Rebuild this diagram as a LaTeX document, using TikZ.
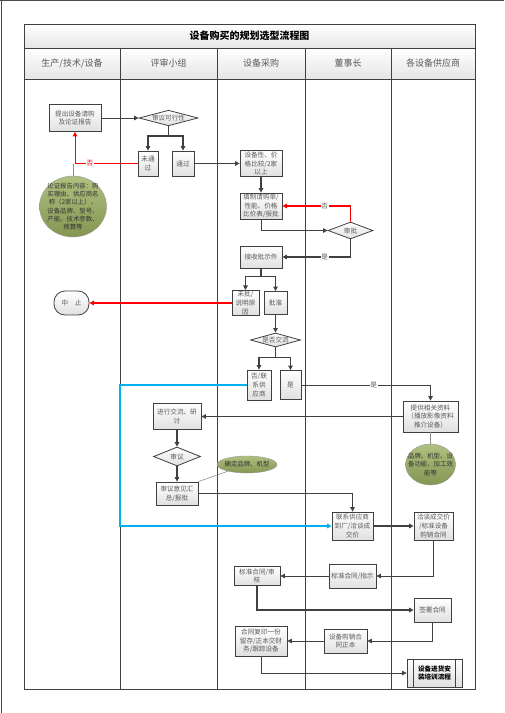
\documentclass[tikz,border=0pt]{standalone}
\usepackage{fontspec}
\setmainfont{Noto Sans CJK SC}
\usetikzlibrary{arrows.meta,shapes.geometric}
\definecolor{linegray}{RGB}{64,64,64}
\definecolor{txtgray}{RGB}{89,89,89}
\definecolor{notegreen}{RGB}{155,176,96}
\definecolor{flowred}{RGB}{255,0,0}
\definecolor{flowblue}{RGB}{0,176,240}

\begin{document}
\begin{tikzpicture}[x=1pt, y=-1pt, >={Triangle[length=4.5pt,width=4.5pt]},
  sz/.style 2 args = {minimum width=#1pt, minimum height=#2pt},
  proc/.style = {draw=linegray, line width=0.8pt, top color=white, bottom color=black!12, text=txtgray, font=\fontsize{6.6}{8.6}\selectfont, align=center, inner sep=1pt},
  dec/.style = {proc, diamond, aspect=3.5, inner sep=0pt},
  term/.style = {proc, rounded corners=11pt},
  note/.style = {draw=black!40, ellipse, top color=notegreen!80!white, bottom color=notegreen!85!black, text=black!80, font=\fontsize{6.4}{8.3}\selectfont, align=center},
  lane/.style = {text=txtgray, font=\fontsize{9}{10}\selectfont},
  lab/.style = {fill=white, inner sep=0.8pt, text=txtgray, font=\fontsize{6.6}{8}\selectfont},
  flow/.style = {draw=linegray, line width=1pt, ->},
  thin/.style = {draw=linegray, line width=0.7pt, ->},
  bold/.style = {draw=linegray, line width=1.6pt, ->}]
  \useasboundingbox (0,0) rectangle (504,713);
  % page edge
  \draw[black!70, line width=1pt] (0,0.5) -- (504,0.5);
  \draw[black!70, line width=1pt] (1.5,0) -- (1.5,713);
  % table
  \shade[top color=white, bottom color=black!10] (24,24) rectangle (475,48);
  \shade[top color=white, bottom color=black!10] (24,48) rectangle (475,79);
  \draw[linegray, line width=0.9pt] (24,24) rectangle (475,689);
  \draw[linegray, line width=0.9pt] (24,48) -- (475,48);
  \draw[linegray, line width=0.9pt] (24,79) -- (475,79);
  \draw[linegray, line width=0.9pt] (120,48) -- (120,689);
  \draw[linegray, line width=0.9pt] (217,48) -- (217,689);
  \draw[linegray, line width=0.9pt] (305,48) -- (305,689);
  \draw[linegray, line width=0.9pt] (391,48) -- (391,689);
  \node[font=\fontsize{10}{12}\selectfont\bfseries] (title) at (249.5,36) {设备购买的规划选型流程图};
  \node[lane] (prod) at (72,63.5) {生产/技术/设备};
  \node[lane] (panel) at (168.5,63.5) {评审小组};
  \node[lane] (buy) at (261,63.5) {设备采购};
  \node[lane] (board) at (348,63.5) {董事长};
  \node[lane] (supp) at (433,63.5) {各设备供应商};

  % nodes
  \node[proc, sz={52}{27}] (req) at (75,118) {提出设备请购\\及论证报告};
  \node[note, sz={67}{61}, inner sep=-3pt] (reason) at (73,206.5) {论证报告内容：购\\买理由、供应商名\\称（2家以上）、\\设备品牌、型号、\\产能、技术参数、\\预算等};
  \node[dec, sz={59}{15}] (feas) at (168.5,118) {审议可行性};
  \node[proc, sz={20}{25}] (nopass) at (148,163.5) {未通\\过};
  \node[proc, sz={22}{25}] (pass) at (183,163.5) {通过};
  \node[proc, sz={42}{26}] (cmp) at (261,163.5) {设备性、价\\格比较/2家\\以上};
  \node[proc, sz={42}{26}] (fill) at (261,206) {填制请购单/\\性能、价格\\比价表/报批};
  \node[dec, sz={45}{17}] (appr) at (350.5,230.5) {审批};
  \node[proc, sz={42}{22}] (recv) at (261,257) {接收批示件};
  \node[proc, sz={27}{25}] (rej) at (245.5,303) {未批/\\说明原\\因};
  \node[proc, sz={23}{23}] (ok) at (275.5,303) {批准};
  \node[term, sz={35}{24}] (stop) at (71.5,303) {中\quad 止};
  \node[dec, sz={50}{14}] (xchg) at (275.5,340) {是否交流};
  \node[proc, sz={24}{30}] (noc) at (259,385) {否/联\\系供\\应商};
  \node[proc, sz={21}{29}] (yesc) at (290.5,385) {是};
  \node[proc, sz={55}{31}] (info) at (430.5,416.5) {提供相关资料\\（播放影像资料\\推介设备）};
  \node[note, sz={50}{41}, inner sep=-5pt] (spec) at (430.5,464.5) {品牌、机型、设\\备功能、加工效\\能等};
  \node[proc, sz={48}{26}] (disc) at (177,416.5) {进行交流、研\\讨};
  \node[dec, sz={47}{19}] (rev) at (177,456.5) {审议};
  \node[proc, sz={42}{23}] (sum) at (177,493.5) {审议意见汇\\总/报批};
  \node[note, sz={60}{17}, inner sep=-1.5pt] (brand) at (247,464.5) {确定品牌、机型};
  \node[proc, sz={41}{28}] (cont) at (352.5,526) {联系供应商\\到厂/洽谈成\\交价};
  \node[proc, sz={39}{28}] (nego) at (433.5,526) {洽谈成交价\\/标准设备\\购销合同};
  \node[proc, sz={47}{24}] (stdi) at (352.5,576) {标准合同/指示};
  \node[proc, sz={46}{19}] (stda) at (257,576) {标准合同/审\\核};
  \node[proc, sz={37}{24}] (sign) at (432.5,610) {签署合同};
  \node[proc, sz={43}{24}] (orig) at (345.5,641) {设备购销合\\同正本};
  \node[proc, sz={52}{30}] (copy) at (261,641) {合同复印一份\\留存/正本交财\\务/跟踪设备};
  \node[proc, sz={55}{28}, text=black, font=\fontsize{6.6}{8.6}\selectfont\bfseries] (install) at (434.5,673) {设备进货安\\装培训流程};
  \draw[linegray, line width=0.8pt] ([xshift=7pt]install.north west) -- ([xshift=7pt]install.south west);
  \draw[linegray, line width=0.8pt] ([xshift=-7pt]install.north east) -- ([xshift=-7pt]install.south east);

  % connectors
  \draw[flow] (req) -- (feas);
  \draw[line width=1.5pt, linegray] (feas.south) -- ++(0,10) coordinate (s1);
  \draw[bold, line width=1.5pt] (s1) -| (nopass);
  \draw[bold, line width=1.5pt] (s1) -| (pass);
  \draw[black!45, line width=0.8pt] (reason.north) -- (reason.north |- nopass);
  \draw[flowred, line width=1pt, ->] (nopass.west) -| (req.south) node[lab, text=flowred, pos=0.38] {否};
  \draw[flow] (pass) -- (cmp);
  \draw[flow, line width=1.3pt] (cmp) -- (fill);
  \draw[flow] (fill.south) |- (appr);
  \draw[flowred, line width=1.6pt, ->] (appr.north) |- (fill) node[lab, pos=0.69] {否};
  \draw[bold] (appr.south) |- (recv) node[lab, pos=0.69] {是};
  \draw[line width=1.5pt, linegray] (recv.south) -- ++(0,8) coordinate (s2);
  \draw[bold, line width=1.5pt] (s2) -| (rej);
  \draw[bold, line width=1.5pt] (s2) -| (ok);
  \draw[flowred, line width=1.6pt, ->] (rej) -- (stop);
  \draw[bold, line width=1.5pt] (ok) -- (xchg);
  \draw[line width=1.5pt, linegray] (xchg.south) -- ++(0,10) coordinate (s3);
  \draw[bold, line width=1.5pt] (s3) -| (noc);
  \draw[bold, line width=1.5pt] (s3) -| (yesc);
  \draw[thin] (yesc.east) -| (info) node[lab, pos=0.28] {是};
  \draw[bold] (info) -- (disc);
  \draw[black!45, line width=0.8pt] (info) -- (spec);
  \draw[flow, line width=1.2pt] (disc) -- (rev);
  \draw[flow, line width=1.2pt] (rev) -- (sum);
  \draw[black!45, line width=0.6pt] (sum.north east) -- (brand);
  \draw[flow, line width=1.3pt] (sum.east) -| (cont);
  \coordinate (bl) at (120,526);
  \draw[flowblue, line width=1.6pt, ->] (noc.west) -| (bl) -- (cont);
  \draw[bold] (cont) -- (nego);
  \draw[thin] (nego.south) |- (stdi);
  \draw[thin] (stdi) -- (stda);
  \draw[bold, line width=1.8pt] (stda.south) |- (sign);
  \draw[thin] (sign.south) |- (orig);
  \draw[thin] (orig) -- (copy);
  \draw[thin] (copy.south) |- (install);
\end{tikzpicture}
\end{document}
